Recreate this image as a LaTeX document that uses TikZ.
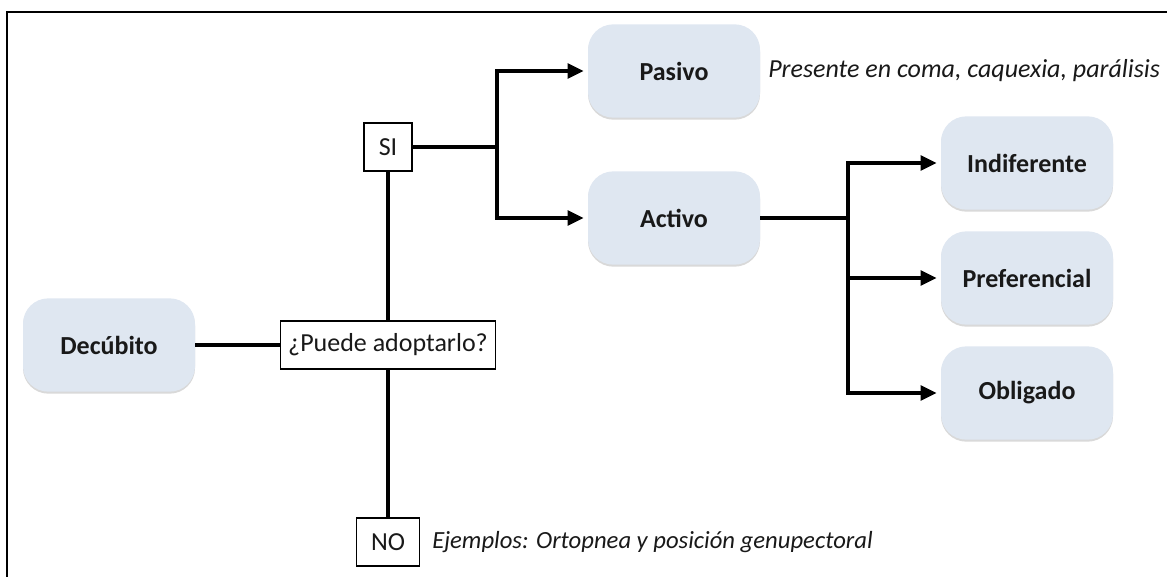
\documentclass[tikz,border=0pt]{standalone}
\usepackage{fontspec}
\setmainfont{Carlito}
\usetikzlibrary{arrows.meta,shadows}

\definecolor{cajafondo}{RGB}{223,231,241}
\definecolor{texto}{RGB}{25,25,25}

\tikzset{
  caja/.style={rounded corners=19pt, fill=cajafondo, minimum width=129pt, minimum height=70pt,
    text=texto, font=\fontsize{19.5}{23}\selectfont\bfseries,
    drop shadow={shadow xshift=0pt, shadow yshift=-1.5pt, opacity=0.3}},
  pregunta/.style={draw, line width=1pt, minimum height=36pt, inner xsep=4pt,
    text=texto, font=\fontsize{19.5}{23}\selectfont},
  nota/.style={anchor=west, inner sep=0pt, text=texto, font=\fontsize{19.5}{23}\selectfont\itshape},
  linea/.style={line width=2.6pt},
  flecha/.style={line width=2.6pt, -{Triangle[length=12pt,width=11pt]}, shorten >=3pt},
}

\begin{document}
\begin{tikzpicture}[x=0.75pt,y=0.75pt,yscale=-1,xscale=1]
\useasboundingbox (0,0) rectangle (1167,576);

%Frame
\draw [line width=2.2pt] (7,12) rectangle (1190,600);

%Rounded Rect
\node [caja] (decubito) at (109,345) {Decúbito};
\node [caja] (pasivo) at (674,71) {Pasivo};
\node [caja] (activo) at (674,218) {Activo};
\node [caja] (indiferente) at (1027,163) {Indiferente};
\node [caja] (preferencial) at (1027,278) {Preferencial};
\node [caja] (obligado) at (1027,393) {Obligado};

%Rect
\node [pregunta, minimum width=161pt] (puede) at (388,345) {¿Puede adoptarlo?};
\node [pregunta, minimum width=36pt] (si) at (388,147) {SI};
\node [pregunta, minimum width=47pt] (no) at (388,542) {NO};

% Text Node
\node [nota] (notapasivo) at (768,71) {Presente en coma, caquexia, parálisis};
% Text Node
\node [nota, font=\fontsize{18.5}{22}\selectfont\itshape] (notano) at (432,542) {Ejemplos: Ortopnea y posición genupectoral};

%Branch points
\coordinate (nudosi) at (497,147);
\coordinate (nudoactivo) at (848,218);

%Straight Lines
\draw [linea] (decubito) -- (puede);
\draw [linea] (puede) -- (si);
\draw [linea] (puede) -- (no);
\draw [linea] (si) -- (nudosi);
\draw [linea] (activo) -- (nudoactivo);

%Arrows
\draw [flecha] (nudosi) |- (pasivo);
\draw [flecha] (nudosi) |- (activo);
\draw [flecha] (nudoactivo) |- (indiferente);
\draw [flecha] (nudoactivo) |- (preferencial);
\draw [flecha] (nudoactivo) |- (obligado);

\end{tikzpicture}
\end{document}
